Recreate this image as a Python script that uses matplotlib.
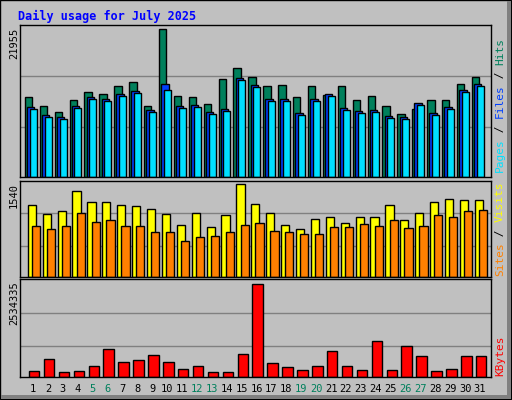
import matplotlib
matplotlib.use("Agg")
import matplotlib.pyplot as plt
from matplotlib.patches import Rectangle
import numpy as np

days = list(range(1, 32))
weekends = [5, 6, 12, 13, 19, 20, 26, 27]
max_hits = 21955
max_visits = 1540
max_kbytes = 2534335

hits = [11870, 10530, 9640, 11420, 12610, 12320, 13500, 14090, 10530, 21955, 12020, 11870, 10830, 14540, 16180, 14830, 13500, 13650, 11870, 13500, 12170, 13500, 11420, 12020, 10530, 9350, 10090, 11420, 11420, 13800, 14830]
files = [10380, 9200, 8900, 10530, 11870, 11570, 12320, 12760, 9940, 13800, 10530, 10680, 9640, 10090, 14690, 13650, 11570, 11570, 9500, 11570, 12320, 10240, 9800, 9940, 9050, 8900, 10980, 9500, 10380, 12910, 13800]
pages = [10090, 8900, 8600, 10240, 11570, 11270, 12020, 12460, 9640, 12910, 10240, 10380, 9350, 9800, 14400, 13350, 11270, 11270, 9200, 11270, 12020, 9940, 9500, 9640, 8750, 8600, 10680, 9200, 10090, 12610, 13500]
visits = [1190, 1040, 1090, 1430, 1240, 1240, 1190, 1170, 1120, 1040, 860, 1060, 820, 1020, 1540, 1210, 1060, 860, 800, 960, 1000, 900, 1000, 1000, 1190, 940, 1060, 1240, 1290, 1270, 1270]
sites = [840, 790, 840, 1060, 910, 940, 840, 840, 740, 740, 600, 660, 680, 740, 860, 890, 760, 740, 710, 710, 830, 830, 880, 840, 940, 810, 840, 1020, 1000, 1090, 1110]
kbytes = [170000, 500000, 140000, 170000, 310000, 750000, 420000, 470000, 610000, 420000, 220000, 310000, 140000, 140000, 640000, 2534335, 390000, 280000, 200000, 310000, 700000, 310000, 200000, 980000, 200000, 840000, 580000, 170000, 220000, 560000, 560000]

W, H = 512, 400
fig = plt.figure(figsize=(5.12, 4.0), dpi=100, facecolor="#C0C0C0")
bg = fig.add_axes([0, 0, 1, 1]); bg.set_xlim(0, W); bg.set_ylim(H, 0); bg.axis("off")
bg.add_patch(Rectangle((0, 0), W - 1, H - 1, fill=False, ec="black", lw=1))
bg.add_patch(Rectangle((W - 5, 1), 4, H - 2, color="#808080", lw=0))
bg.add_patch(Rectangle((1, H - 5), W - 2, 4, color="#808080", lw=0))

mono = "DejaVu Sans Mono"
bg.text(18, 16, "Daily usage for July 2025", color="#0000FF", fontfamily=mono,
        fontweight="bold", fontsize=8.5, va="center")

xmin = 1 - 13 / 14.9
xmax = xmin + 471 / 14.9

def panel(top, bottom, scale_px, maxval):
    ax = fig.add_axes([20 / W, 1 - bottom / H, 471 / W, (bottom - top) / H])
    ax.set_facecolor("#C0C0C0")
    ax.set_xlim(xmin, xmax)
    full = (bottom - top) / scale_px * maxval
    ax.set_ylim(0, full)
    ax.set_xticks([]); ax.set_yticks([])
    for s in ax.spines.values():
        s.set_color("black"); s.set_linewidth(1)
    return ax

a1 = panel(25, 177, 148, max_hits)
for f in (50 / 148, 101 / 148):
    a1.axhline(f * max_hits, color="#808080", lw=1, zorder=0)
d = np.array(days)
a1.bar(d - 0.55, hits, width=0.5, align="edge", color="#00805C", ec="black", lw=1)
a1.bar(d - 0.4, files, width=0.5, align="edge", color="#0040FF", ec="black", lw=1)
a1.bar(d - 0.22, pages, width=0.47, align="edge", color="#00E0FF", ec="black", lw=1)

a2 = panel(181, 277, 93, max_visits)
for f in (31 / 93, 64 / 93):
    a2.axhline(f * max_visits, color="#808080", lw=1, zorder=0)
a2.bar(d - 0.35, visits, width=0.55, align="edge", color="#FFFF00", ec="black", lw=1)
a2.bar(d - 0.07, sites, width=0.55, align="edge", color="#FF8000", ec="black", lw=1)

a3 = panel(279, 377, 93, max_kbytes)
for f in (31 / 93, 64 / 93):
    a3.axhline(f * max_kbytes, color="#808080", lw=1, zorder=0)
a3.bar(d - 0.27, kbytes, width=0.7, align="edge", color="#FF0000", ec="black", lw=1)

for y, t in [(28, str(max_hits)), (183, str(max_visits)), (281, str(max_kbytes))]:
    bg.text(14, y, t, rotation=90, fontfamily=mono, fontsize=7.5, ha="center", va="top")

for day in days:
    x = 33 + 14.9 * (day - 1)
    bg.text(x, 389, str(day), color="#00805C" if day in weekends else "black",
            fontfamily=mono, fontsize=7.5, ha="center", va="center")

fs = 8
cw = 0.602 * fs * 100 / 72
def rlabel(ybottom, parts):
    y = ybottom
    for txt, col in parts:
        bg.text(500, y, txt, rotation=90, color=col, fontfamily=mono, fontsize=fs,
                ha="center", va="bottom")
        y -= cw * len(txt)

rlabel(172, [("Pages", "#00E0FF"), (" / ", "black"), ("Files", "#0040FF"), (" / ", "black"), ("Hits", "#00805C")])
rlabel(276, [("Sites", "#FF8000"), (" / ", "black"), ("Visits", "#FFFF00")])
rlabel(376, [("KBytes", "#FF0000")])

fig.savefig("out.png", dpi=100, facecolor=fig.get_facecolor())
